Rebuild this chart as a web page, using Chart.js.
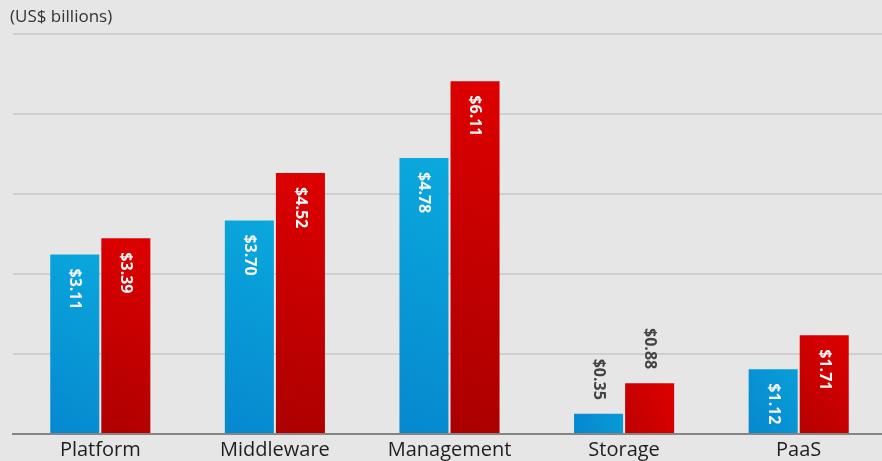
<!DOCTYPE html>
<html>
<head>
<meta charset="utf-8">
<script src="https://cdn.jsdelivr.net/npm/chart.js@4.4.1/dist/chart.umd.min.js"></script>
<style>
  html, body { margin: 0; padding: 0; background: #e6e6e6; overflow: hidden; }
  #wrap { position: relative; width: 886px; height: 466px; }
</style>
</head>
<body>
<div id="wrap"><canvas id="chart"></canvas></div>
<script>
'use strict';

var categories = ['Platform', 'Middleware', 'Management', 'Storage', 'PaaS'];
var blueValues = [3.11, 3.70, 4.78, 0.35, 1.12];
var redValues = [3.39, 4.52, 6.11, 0.88, 1.71];
var axisMax = 6.93;
var axisStep = 1.386;
var unitTitle = '(US$ billions)';

var FONT = '"Open Sans", "DejaVu Sans", sans-serif';

// per-bar gradient, a bit lighter at the top right, darker at bottom left
function barGradient(light, dark) {
    return function(context) {
        var chart = context.chart;
        if (!chart.chartArea || !chart.scales.y || !chart.scales.x || context.dataIndex === undefined) {
            return light;
        }
        var ys = chart.scales.y;
        var cx = chart.scales.x.getPixelForValue(context.dataIndex);
        var value = context.dataset.data[context.dataIndex];
        var top = ys.getPixelForValue(value);
        var bottom = ys.getPixelForValue(0);
        var g = chart.ctx.createLinearGradient(cx - 50, bottom, cx + 50, top);
        g.addColorStop(0, dark);
        g.addColorStop(1, light);
        return g;
    };
}

var unitLabel = {
    id: 'unitLabel',
    afterDraw: function(chart) {
        var ctx = chart.ctx;
        ctx.save();
        ctx.font = '17px ' + FONT;
        ctx.fillStyle = '#333333';
        ctx.textAlign = 'left';
        ctx.textBaseline = 'middle';
        ctx.fillText(unitTitle, 10, 17);
        ctx.restore();
    }
};

var valueLabels = {
    id: 'valueLabels',
    afterDatasetsDraw: function(chart) {
        var ctx = chart.ctx;
        ctx.save();
        ctx.font = 'bold 16px ' + FONT;
        ctx.textBaseline = 'middle';
        chart.data.datasets.forEach(function(ds, di) {
            var meta = chart.getDatasetMeta(di);
            meta.data.forEach(function(bar, i) {
                var txt = '$' + ds.data[i].toFixed(2);
                var w = ctx.measureText(txt).width;
                var h = bar.base - bar.y;
                ctx.save();
                if (h > w + 20) {
                    ctx.translate(bar.x, bar.y + 14);
                    ctx.rotate(Math.PI / 2);
                    ctx.textAlign = 'left';
                    ctx.fillStyle = '#f4f4f4';
                } else {
                    ctx.translate(bar.x, bar.y - 14);
                    ctx.rotate(Math.PI / 2);
                    ctx.textAlign = 'right';
                    ctx.fillStyle = '#444444';
                }
                ctx.fillText(txt, 0, 0);
                ctx.restore();
            });
        });
        ctx.restore();
    }
};

var ctx = document.getElementById('chart').getContext('2d');
var chart = new Chart(ctx, {
    type: 'bar',
    data: {
        labels: categories,
        datasets: [{
            label: 'Blue',
            data: blueValues,
            backgroundColor: barGradient('#0aabde', '#0688cf'),
            borderWidth: 0
        }, {
            label: 'Red',
            data: redValues,
            backgroundColor: barGradient('#de0000', '#a80000'),
            borderWidth: 0
        }]
    },
    options: {
        responsive: true,
        maintainAspectRatio: false,
        animation: false,
        categoryPercentage: 0.585,
        barPercentage: 0.96,
        layout: {
            padding: { top: 34, left: 13, right: 0, bottom: 0 }
        },
        plugins: {
            legend: { display: false },
            title: { display: false },
            tooltip: { enabled: false }
        },
        scales: {
            x: {
                grid: { display: false, drawTicks: false },
                border: { display: true, color: '#858585', width: 2 },
                ticks: {
                    color: '#1e1e1e',
                    padding: 4,
                    font: { family: FONT, size: 20 }
                }
            },
            y: {
                min: 0,
                max: axisMax,
                grid: { color: '#cfcfcf', lineWidth: 2, drawTicks: false },
                border: { display: false },
                ticks: { display: false, stepSize: axisStep }
            }
        }
    },
    plugins: [unitLabel, valueLabels]
});
</script>
</body>
</html>
